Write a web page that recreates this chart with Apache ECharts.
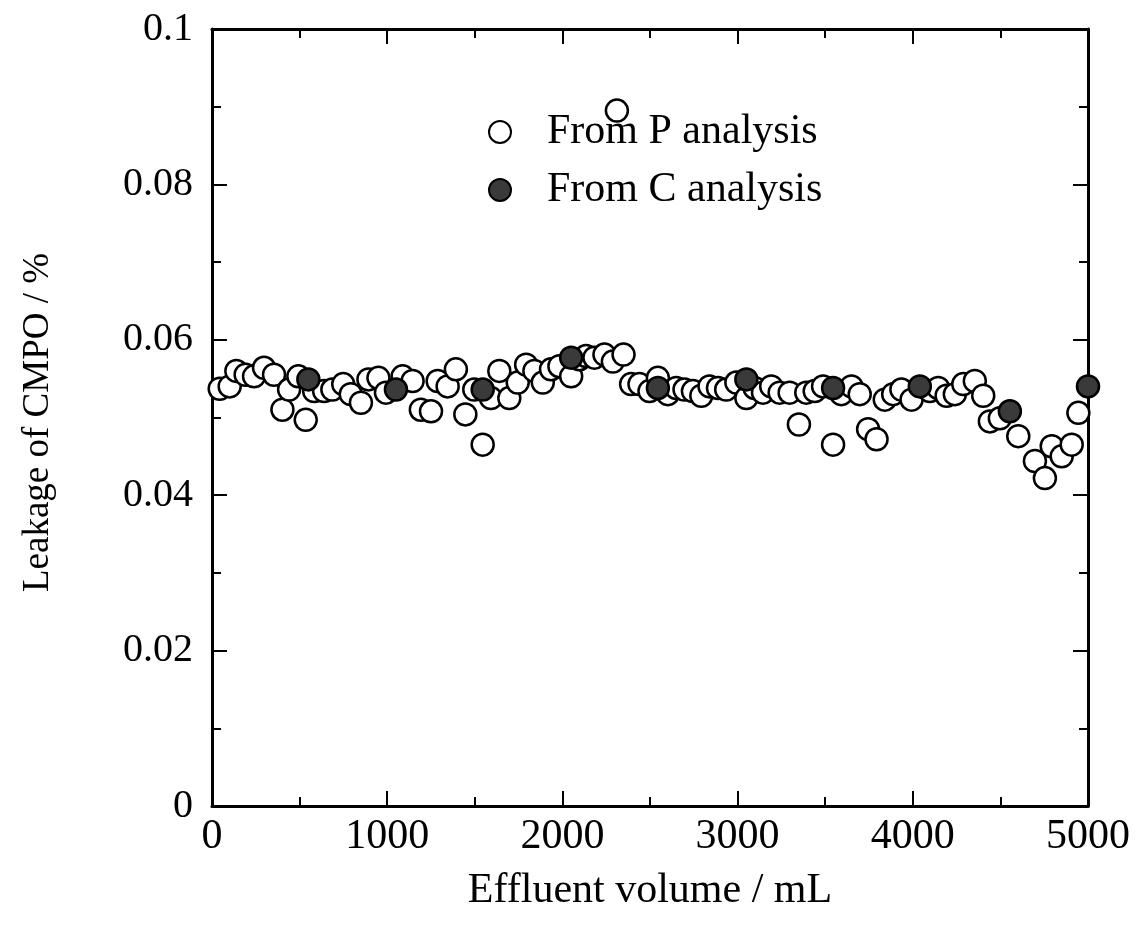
<!DOCTYPE html>
<html><head><meta charset="utf-8">
<script src="https://cdn.jsdelivr.net/npm/echarts@6/dist/echarts.min.js"></script>
<style>html,body{margin:0;padding:0;background:#fff}#c{width:1141px;height:937px}</style>
</head><body><div id="c"></div>
<script>
const xTicks = [0, 1000, 2000, 3000, 4000, 5000];
const yTicks = [0, 0.02, 0.04, 0.06, 0.08, 0.1];
const pX = [44,101,139,192,240,297,354,402,440,493,535,583,640,687,749,792,850,893,950,993,1088,1145,1192,1250,1288,1345,1392,1446,1497,1545,1592,1640,1697,1745,1793,1840,1888,1935,1983,2050,2097,2135,2183,2240,2288,2311,2349,2392,2440,2497,2545,2602,2650,2697,2745,2793,2840,2888,2935,2993,3050,3097,3145,3192,3240,3297,3350,3392,3440,3488,3545,3592,3650,3697,3745,3793,3840,3888,3935,3993,4097,4145,4193,4240,4288,4354,4402,4440,4497,4602,4697,4754,4793,4850,4907,4945];
const pY = [0.0537,0.0540,0.0560,0.0555,0.0553,0.0564,0.0555,0.0510,0.0536,0.0553,0.0497,0.0534,0.0534,0.0536,0.0543,0.0530,0.0519,0.0549,0.0551,0.0532,0.0553,0.0547,0.0510,0.0508,0.0547,0.0540,0.0562,0.0504,0.0536,0.0465,0.0525,0.0560,0.0525,0.0545,0.0568,0.0560,0.0545,0.0562,0.0566,0.0553,0.0575,0.0579,0.0577,0.0581,0.0572,0.0895,0.0581,0.0543,0.0543,0.0534,0.0551,0.0530,0.0538,0.0536,0.0534,0.0528,0.0540,0.0538,0.0536,0.0545,0.0525,0.0538,0.0532,0.0540,0.0532,0.0532,0.0491,0.0532,0.0534,0.0540,0.0465,0.0530,0.0540,0.0530,0.0485,0.0472,0.0523,0.0530,0.0536,0.0523,0.0534,0.0538,0.0528,0.0530,0.0543,0.0547,0.0528,0.0495,0.0499,0.0476,0.0444,0.0422,0.0463,0.0450,0.0465,0.0506];
const cX = [550,1050,1545,2050,2545,3050,3545,4040,4554,5000];
const cY = [0.0549,0.0536,0.0536,0.0577,0.0538,0.0549,0.0538,0.0540,0.0508,0.0540];
const seriesNames = ['From P analysis', 'From C analysis'];
const xTitle = 'Effluent volume / mL';
const yTitle = 'Leakage of CMPO / %';

const font = '"Liberation Serif", "DejaVu Serif", serif';
const chart = echarts.init(document.getElementById('c'));
const axisLine = {show: true, onZero: false, lineStyle: {color: '#000', width: 3}};
const majorTick = {show: true, inside: true, length: 15, lineStyle: {color: '#000', width: 2}};
const minorTick = {show: true, splitNumber: 2, length: 9, lineStyle: {color: '#000', width: 2}};
const xBase = {type: 'value', min: xTicks[0], max: xTicks[xTicks.length-1], interval: 1000, splitLine: {show: false}, axisLine, axisTick: majorTick, minorTick};
const yBase = {type: 'value', min: yTicks[0], max: yTicks[yTicks.length-1], interval: 0.02, splitLine: {show: false}, axisLine, axisTick: majorTick, minorTick};
const zip = (a, b) => a.map((v, i) => [v, b[i]]);
chart.setOption({
  animation: false,
  backgroundColor: '#fff',
  grid: {left: 212, top: 29, right: 53, bottom: 131},
  legend: {
    orient: 'vertical', left: 483, top: 106, itemGap: 16, itemWidth: 22, itemHeight: 22,
    data: seriesNames,
    textStyle: {fontFamily: font, fontSize: 42, color: '#000', padding: [0, 0, 0, 31]}
  },
  xAxis: [
    Object.assign({}, xBase, {position: 'bottom', name: xTitle, nameLocation: 'middle', nameGap: 64,
      nameTextStyle: {fontFamily: font, fontSize: 42, color: '#000'},
      axisLabel: {fontFamily: font, fontSize: 42, color: '#000', margin: 10,
        formatter: v => String(v)}}),
    Object.assign({}, xBase, {position: 'top', axisLabel: {show: false}})
  ],
  yAxis: [
    Object.assign({}, yBase, {position: 'left', name: yTitle, nameLocation: 'middle', nameGap: 155,
      nameTextStyle: {fontFamily: font, fontSize: 37, color: '#000', padding: [0, 10, 0, 0]},
      axisLabel: {fontFamily: font, fontSize: 40, color: '#000', margin: 19,
        formatter: v => v === 0 ? '0' : (v === 0.1 ? '0.1' : v.toFixed(2))}}),
    Object.assign({}, yBase, {position: 'right', axisLabel: {show: false}})
  ],
  series: [
    {name: seriesNames[0], type: 'scatter', symbol: 'circle', symbolSize: 22, z: 2,
      itemStyle: {color: '#fff', borderColor: '#000', borderWidth: 2.5, opacity: 1},
      data: zip(pX, pY)},
    {name: seriesNames[1], type: 'scatter', symbol: 'circle', symbolSize: 22, z: 3,
      itemStyle: {color: '#3a3a3a', borderColor: '#000', borderWidth: 2.5, opacity: 1},
      data: zip(cX, cY)}
  ]
});
</script></body></html>
